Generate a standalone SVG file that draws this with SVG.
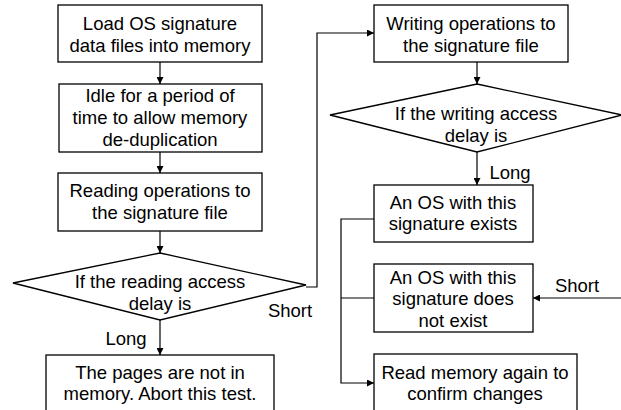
<svg xmlns="http://www.w3.org/2000/svg" width="621" height="410" viewBox="0 0 621 410">
<style>
.n{fill:#fff;stroke:#000;stroke-width:1.3}
.c{fill:none;stroke:#000;stroke-width:1.2}
text{font-family:"Liberation Sans",Arial,sans-serif;font-size:18.5px;fill:#000}
.m{text-anchor:middle}
</style>
<defs>
<marker id="a" viewBox="0 0 10 10" refX="10" refY="5" markerWidth="7" markerHeight="7" markerUnits="userSpaceOnUse" orient="auto">
<path d="M0,0 L10,5 L0,10 z" fill="#000"/>
</marker>
</defs>
<rect width="621" height="410" fill="#fff"/>
<g id="connectors">
<line class="c" x1="160" y1="62" x2="160" y2="84" marker-end="url(#a)"/>
<line class="c" x1="160" y1="152" x2="160" y2="173" marker-end="url(#a)"/>
<line class="c" x1="160" y1="231" x2="160" y2="253" marker-end="url(#a)"/>
<line class="c" x1="160" y1="320" x2="160" y2="355" marker-end="url(#a)"/>
<polyline class="c" points="306,287 317,287 317,33 374,33" marker-end="url(#a)"/>
<line class="c" x1="477" y1="62" x2="477" y2="84" marker-end="url(#a)"/>
<line class="c" x1="477" y1="152" x2="477" y2="185" marker-end="url(#a)"/>
<polyline class="c" points="374,219 341,219 341,383 374,383" marker-end="url(#a)"/>
<line class="c" x1="374" y1="298" x2="341" y2="298"/>
<line class="c" x1="621" y1="298" x2="533" y2="298" marker-end="url(#a)"/>
<text x="290" y="317" class="m">Short</text>
<text x="126" y="345" class="m">Long</text>
<text x="510" y="179" class="m">Long</text>
<text x="577" y="292" class="m">Short</text>
</g>
<g id="load">
<rect class="n" x="58" y="5" width="204" height="57"/>
<text x="160" y="30" class="m">Load OS signature</text>
<text x="160" y="52" class="m">data files into memory</text>
</g>
<g id="idle">
<rect class="n" x="59" y="84" width="203" height="68"/>
<text x="160" y="102" class="m">Idle for a period of</text>
<text x="160" y="124" class="m">time to allow memory</text>
<text x="160" y="146" class="m">de-duplication</text>
</g>
<g id="reading">
<rect class="n" x="58" y="173" width="204" height="58"/>
<text x="160" y="197" class="m">Reading operations to</text>
<text x="160" y="219" class="m">the signature file</text>
</g>
<g id="readdecision">
<polygon class="n" points="160,253 306,285 160,320 13,283"/>
<text x="160" y="288" class="m">If the reading access</text>
<text x="160" y="310" class="m">delay is</text>
</g>
<g id="abort">
<rect class="n" x="46" y="355" width="228" height="70"/>
<text x="160" y="379" class="m">The pages are not in</text>
<text x="160" y="400" class="m">memory. Abort this test.</text>
</g>
<g id="writing">
<rect class="n" x="374" y="5" width="194" height="57"/>
<text x="471" y="30" class="m">Writing operations to</text>
<text x="471" y="52" class="m">the signature file</text>
</g>
<g id="writedecision">
<polygon class="n" points="477,84 622,115 477,152 330,115"/>
<text x="476" y="120" class="m">If the writing access</text>
<text x="476" y="142" class="m">delay is</text>
</g>
<g id="exists">
<rect class="n" x="374" y="185" width="159" height="57"/>
<text x="453" y="209" class="m">An OS with this</text>
<text x="453" y="230" class="m">signature exists</text>
</g>
<g id="notexist">
<rect class="n" x="374" y="264" width="159" height="68"/>
<text x="453" y="284" class="m">An OS with this</text>
<text x="453" y="305" class="m">signature does</text>
<text x="453" y="327" class="m">not exist</text>
</g>
<g id="readagain">
<rect class="n" x="374" y="354" width="203" height="70"/>
<text x="475" y="379" class="m">Read memory again to</text>
<text x="475" y="400" class="m">confirm changes</text>
</g>
</svg>
